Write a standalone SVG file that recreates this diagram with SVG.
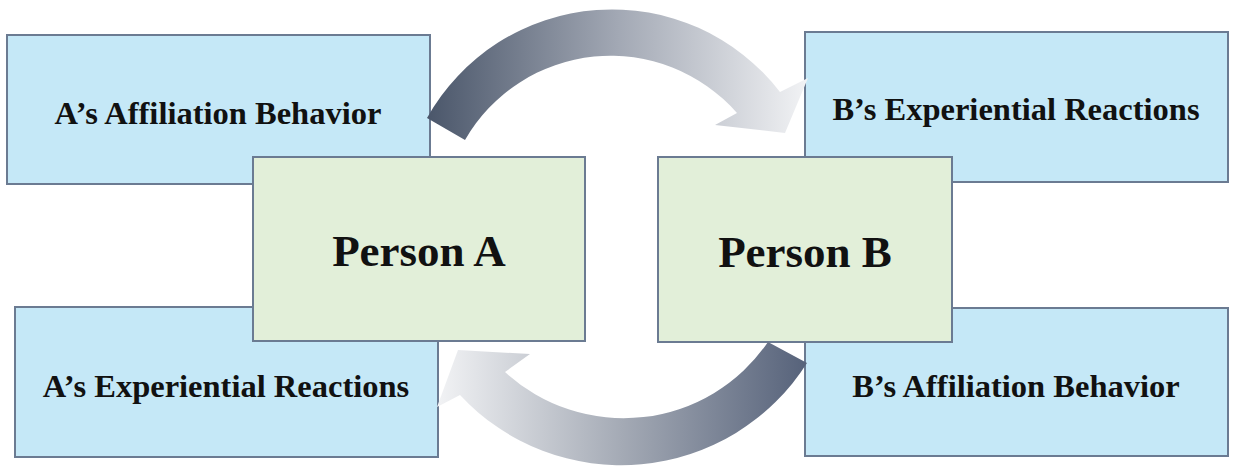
<svg xmlns="http://www.w3.org/2000/svg" width="1233" height="470" viewBox="0 0 1233 470">
  <defs>
    <style>
      .outer { fill: #c5e8f7; stroke: #6b7b92; stroke-width: 2; }
      .person { fill: #e2efd9; stroke: #6b7b92; stroke-width: 2; }
      .label { font-family: "Liberation Serif", "Times New Roman", serif; font-weight: bold; font-size: 32.5px; fill: #111; text-anchor: middle; }
      .big { font-family: "Liberation Serif", "Times New Roman", serif; font-weight: bold; font-size: 45px; fill: #111; text-anchor: middle; }
    </style>
    <!-- shading for the curved arrows: dark at the tail, pale at the head -->
    <linearGradient id="gradTop" gradientUnits="userSpaceOnUse" x1="427" y1="0" x2="808" y2="0">
      <stop offset="0" stop-color="#4a566a"/>
      <stop offset="0.5" stop-color="#a2a8b4"/>
      <stop offset="1" stop-color="#f2f3f5"/>
    </linearGradient>
    <linearGradient id="gradBottom" gradientUnits="userSpaceOnUse" x1="807" y1="0" x2="437" y2="0">
      <stop offset="0" stop-color="#56627a"/>
      <stop offset="0.5" stop-color="#a4aab5"/>
      <stop offset="1" stop-color="#f2f3f5"/>
    </linearGradient>
  </defs>

  <rect width="1233" height="470" fill="#ffffff"/>

  <!-- behaviour / reaction boxes -->
  <g id="a-affiliation">
    <rect class="outer" x="7" y="35" width="423" height="149"/>
    <text class="label" x="218" y="124">A’s Affiliation Behavior</text>
  </g>
  <g id="b-experiential">
    <rect class="outer" x="805" y="32" width="423" height="150"/>
    <text class="label" x="1016" y="120">B’s Experiential Reactions</text>
  </g>
  <g id="a-experiential">
    <rect class="outer" x="15" y="307" width="423" height="150"/>
    <text class="label" x="226" y="397">A’s Experiential Reactions</text>
  </g>
  <g id="b-affiliation">
    <rect class="outer" x="805" y="308" width="423" height="148"/>
    <text class="label" x="1016" y="397">B’s Affiliation Behavior</text>
  </g>

  <!-- persons -->
  <g id="person-a">
    <rect class="person" x="253" y="157" width="332" height="184"/>
    <text class="big" x="419" y="266">Person A</text>
  </g>
  <g id="person-b">
    <rect class="person" x="658" y="157" width="294" height="185"/>
    <text class="big" x="805" y="267">Person B</text>
  </g>

  <!-- curved arrows between the two persons -->
  <g id="connectors">
    <path d="M 427,118 A 212 212 0 0 1 780,92 L 808,78 L 785,133 L 715,125 L 737,113 A 168 168 0 0 0 465,140 Z" fill="url(#gradTop)"/>
    <path d="M 807,363 A 220 220 0 0 1 460,395 L 437,407 L 458,350 L 530,354 L 505,372 A 175 175 0 0 0 768,342 Z" fill="url(#gradBottom)"/>
  </g>
</svg>
